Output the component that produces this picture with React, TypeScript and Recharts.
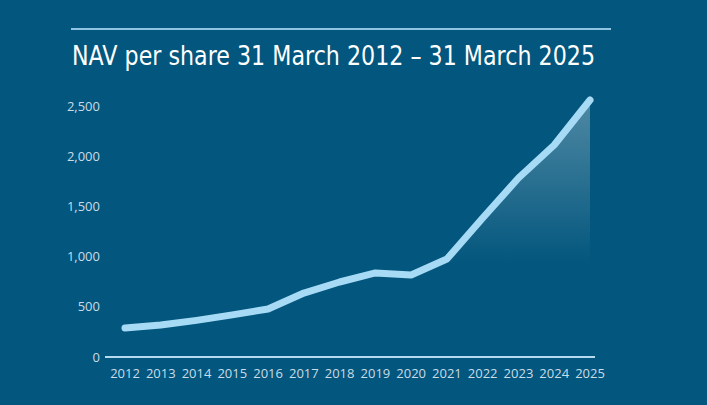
import React from "react";
import { ComposedChart, Area, Line, XAxis, YAxis } from "recharts";

const years = ["2012", "2013", "2014", "2015", "2016", "2017", "2018", "2019", "2020", "2021", "2022", "2023", "2024", "2025"];
const navPerShare = [290, 318, 365, 420, 478, 637, 747, 837, 817, 976, 1385, 1783, 2112, 2560];
const yTicks = [0, 500, 1000, 1500, 2000, 2500];

const BG = "#03567d";
const LINE = "#a6daf5";
const TICK = "#c9dce8";

export default function App() {
  const data = years.map((year, i) => ({ year, nav: navPerShare[i] }));

  return (
    <div
      style={{
        position: "fixed",
        left: 0,
        top: 0,
        width: 707,
        height: 405,
        background: BG,
        overflow: "hidden",
      }}
    >
      <svg width={707} height={405} style={{ position: "absolute", left: 0, top: 0 }}>
        <line x1={71} y1={29} x2={611} y2={29} stroke="#8fc4e2" strokeWidth={2} />
        <text
          x={72}
          y={65}
          fill="#ffffff"
          fontSize={26}
          fontFamily="'DejaVu Sans', sans-serif"
          textLength={523}
          lengthAdjust="spacingAndGlyphs"
        >
          NAV per share 31 March 2012 – 31 March 2025
        </text>
      </svg>

      <div style={{ position: "absolute", left: 0, top: 0 }}>
        <ComposedChart
          width={707}
          height={405}
          data={data}
          margin={{ top: 96, right: 112, bottom: 18, left: 0 }}
        >
          <defs>
            <linearGradient id="navFill" x1="0" y1="0" x2="0" y2="1">
              <stop offset="0%" stopColor="#ffffff" stopOpacity={0.3} />
              <stop offset="64%" stopColor="#ffffff" stopOpacity={0} />
            </linearGradient>
          </defs>
          <XAxis
            dataKey="year"
            padding={{ left: 20, right: 5 }}
            axisLine={{ stroke: "#b5d9ee", strokeWidth: 2 }}
            tickLine={false}
            tickMargin={6}
            interval={0}
            tick={{ fill: TICK, fontSize: 13, fontFamily: "'Open Sans', sans-serif" }}
          />
          <YAxis
            width={105}
            domain={[0, 2600]}
            ticks={yTicks}
            axisLine={false}
            tickLine={false}
            tickSize={3}
            tickMargin={2}
            tickFormatter={(v: number) => v.toLocaleString("en-US")}
            tick={{ fill: TICK, fontSize: 13, fontFamily: "'Open Sans', sans-serif" }}
          />
          <Area
            type="linear"
            dataKey="nav"
            stroke="none"
            fill="url(#navFill)"
            fillOpacity={1}
            isAnimationActive={false}
          />
          <Line
            type="linear"
            dataKey="nav"
            stroke={LINE}
            strokeWidth={7}
            strokeLinecap="round"
            strokeLinejoin="round"
            dot={false}
            activeDot={false}
            isAnimationActive={false}
          />
        </ComposedChart>
      </div>
    </div>
  );
}
